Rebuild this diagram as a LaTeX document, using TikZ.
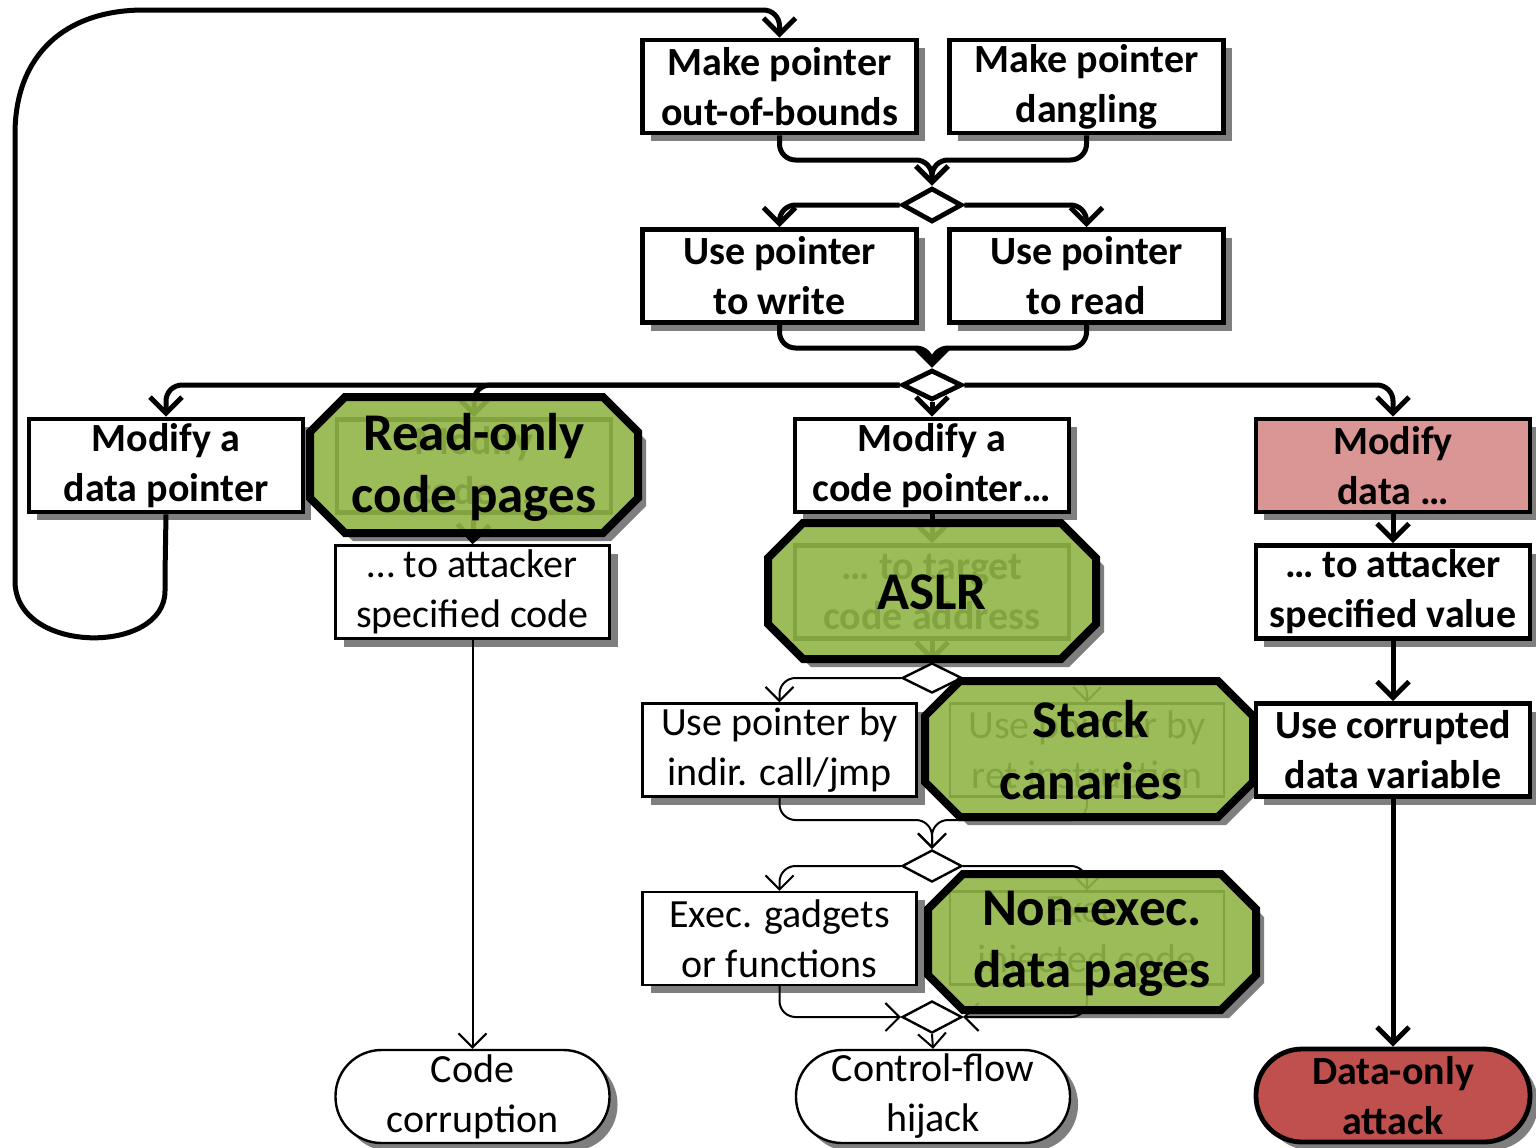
\documentclass[tikz,border=0pt]{standalone}
\usepackage{fontspec}
\setmainfont{Carlito}
\usetikzlibrary{shapes.geometric,arrows.meta,shadows}

\pgfdeclarelayer{back}
\pgfdeclarelayer{links}
\pgfdeclarelayer{guards}
\pgfsetlayers{back,main,links,guards}

\definecolor{guardgreen}{HTML}{92B548}
\definecolor{datapink}{HTML}{D99694}
\definecolor{datared}{HTML}{C0504D}
\definecolor{shade}{HTML}{7F7F7F}

\tikzset{
  every node/.style={inner sep=0pt, align=center},
  boxshade/.style={drop shadow={fill=shade, opacity=1, shadow xshift=4pt, shadow yshift=-4pt}},
  strong/.style={draw, fill=white, line width=2.4pt, minimum width=137pt, minimum height=46.5pt,
    font=\fontsize{20}{25}\selectfont\bfseries},
  weak/.style={strong, line width=1.2pt, font=\fontsize{20}{25}\selectfont},
  terminal/.style={rounded corners=23pt},
  junction/.style={diamond, draw, fill=white, line width=2.4pt, minimum width=30pt, minimum height=16pt},
  thinjunction/.style={junction, line width=1.2pt},
  fwd/.style={draw, line width=2.5pt, rounded corners=8pt, line join=round,
    -{Straight Barb[length=8pt, width=16pt]}},
  thinfwd/.style={fwd, line width=1pt, -{Straight Barb[length=7pt, width=14pt]}},
  guard/.style={draw, line width=4pt, fill=guardgreen, fill opacity=0.9, line join=miter},
  guardtext/.style={font=\fontsize{26.5}{31}\selectfont\bfseries},
}

% octagonal defence badge centred at #1, drawn with style #2
\newcommand{\guardshape}[2]{%
  \path[shift={(#1)}, #2] (-164,-33) -- (-129,-68) -- (129,-68) -- (164,-33)
    -- (164,33) -- (129,68) -- (-129,68) -- (-164,33) -- cycle;}

\begin{document}
\begin{tikzpicture}[x=0.5pt, y=-0.5pt]
\useasboundingbox (0,0) rectangle (1536,1147);

% page background, badge shadows and badge masks
\begin{pgfonlayer}{back}
  \fill[white] (0,0) rectangle (1536,1147);
  \guardshape{482,473}{fill=shade}
  \guardshape{940,599}{fill=shade}
  \guardshape{1097,757}{fill=shade}
  \guardshape{1100,950}{fill=shade}
  \guardshape{474,465}{fill=white}
  \guardshape{932,591}{fill=white}
  \guardshape{1089,749}{fill=white}
  \guardshape{1092,942}{fill=white}
\end{pgfonlayer}

% attack steps
\node[strong, boxshade] (oob)  at (779.5,86.5)  {Make pointer\\out-of-bounds};
\node[strong, boxshade] (dang) at (1086.5,86.5) {Make pointer\\dangling};
\node[strong, boxshade] (write) at (779.5,276)  {Use pointer\\to write};
\node[strong, boxshade] (read)  at (1086.5,276) {Use pointer\\to read};
\node[strong, boxshade] (dptr)  at (166,465.5)  {Modify a\\data pointer};
\node[strong, boxshade] (cptr)  at (932,465.5)  {Modify a\\code pointer…};
\node[strong, boxshade, fill=datapink] (mdata) at (1393,465.5) {Modify\\data …};
\node[weak, boxshade]   (atcode) at (472.5,592) {… to attacker\\specified code};
\node[strong, boxshade] (atval)  at (1393,592)  {… to attacker\\specified value};
\node[weak, boxshade]   (indir)  at (779.5,750) {Use pointer by\\indir. call/jmp};
\node[strong, boxshade] (corr)   at (1393,750)  {Use corrupted\\data variable};
\node[weak, boxshade]   (gadg)   at (779.5,938.5) {Exec. gadgets\\or functions};

% steps covered by the defence badges
\node[strong] (modcode) at (474,466)  {Modify\\code …};
\node[strong] (target)  at (932,592)  {… to target\\code address};
\node[weak]   (ret)     at (1087,750) {Use pointer by\\ret instruction};
\node[weak]   (inj)     at (1087,938) {Exec.\\injected code};

% outcomes
\node[weak, terminal, boxshade] (codecorr) at (472.5,1096.5) {Code\\corruption};
\node[weak, terminal, boxshade] (cfh)      at (933,1096.5)   {Control-flow\\hijack};
\node[strong, terminal, boxshade, fill=datared] (dataonly) at (1393,1095.5) {Data-only\\attack};

% branch / merge points
\node[junction, minimum height=17pt] (d1) at (932,205) {};
\node[junction, minimum height=15pt] (d2) at (932,385) {};
\node[thinjunction, minimum height=15pt] (d3) at (932,678) {};
\node[thinjunction] (d4) at (932,866) {};
\node[thinjunction] (d5) at (932,1017) {};
\coordinate (m1) at (932,160);
\coordinate (m2) at (932,348);
\coordinate (m4) at (932,820);

\begin{pgfonlayer}{links}
  % data pointer loops back to a new pointer error
  \draw[fwd] (dptr.south) -- (165,575) .. controls (165,655) and (15,655) .. (15,565)
    -- (15,150) .. controls (15,55) and (65,10) .. (160,10) -| (oob.north);
  \draw[fwd] (oob.south) |- (m1) -- (d1.north);
  \draw[fwd] (dang.south) |- (m1) -- (d1.north);
  \draw[fwd] (d1.west) -| (write.north);
  \draw[fwd] (d1.east) -| (read.north);
  \draw[fwd] (write.south) |- (m2) -- (d2.north);
  \draw[fwd] (read.south) |- (m2) -- (d2.north);
  \draw[fwd] (d2.west) -| (dptr.north);
  \draw[fwd] (d2.west) -| (modcode.north);
  \draw[fwd] (d2.south) -- (cptr.north);
  \draw[fwd] (d2.east) -| (mdata.north);
  % code corruption
  \draw[fwd] (modcode.south) -- (atcode.north);
  \draw[thinfwd] (atcode.south) -- (codecorr.north);
  % control-flow hijack
  \draw[fwd] (cptr.south) -- (target.north);
  \draw[fwd] (target.south) -- (d3.north);
  \draw[thinfwd] (d3.west) -| (indir.north);
  \draw[thinfwd] (d3.east) -| (ret.north);
  \draw[thinfwd] (indir.south) |- (m4) -- (d4.north);
  \draw[thinfwd] (ret.south) |- (m4) -- (d4.north);
  \draw[thinfwd] (d4.west) -| (gadg.north);
  \draw[thinfwd] (d4.east) -| (inj.north);
  \draw[thinfwd] (gadg.south) |- (d5.west);
  \draw[thinfwd] (inj.south) |- (d5.east);
  \draw[thinfwd] (d5.south) -- (cfh.north);
  % data-only attack
  \draw[fwd] (mdata.south) -- (atval.north);
  \draw[fwd] (atval.south) -- (corr.north);
  \draw[fwd] (corr.south) -- (dataonly.north);
\end{pgfonlayer}

% defences
\begin{pgfonlayer}{guards}
  \guardshape{474,465}{guard}
  \node[guardtext] (rocode) at (474,467) {Read-only\\code pages};
  \guardshape{932,591}{guard}
  \node[guardtext] (aslr) at (932,592) {ASLR};
  \guardshape{1089,749}{guard}
  \node[guardtext] (canary) at (1091,750) {Stack\\canaries};
  \guardshape{1092,942}{guard}
  \node[guardtext] (nx) at (1092,944) {Non-exec.\\data pages};
\end{pgfonlayer}
\end{tikzpicture}
\end{document}
